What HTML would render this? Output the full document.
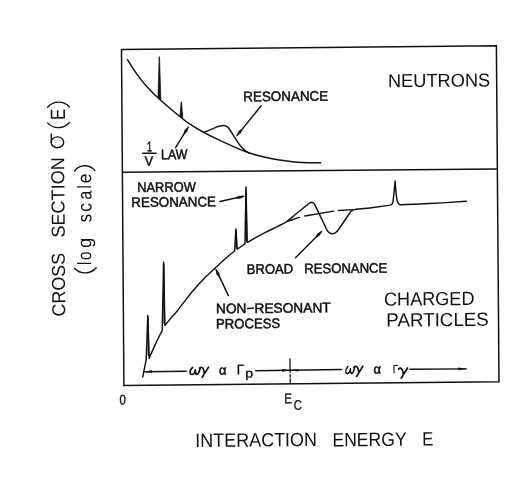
<!DOCTYPE html>
<html><head><meta charset="utf-8">
<style>
html,body{margin:0;padding:0;background:#fff;}
body{width:511px;height:491px;overflow:hidden;}
svg{display:block;filter:grayscale(1);}
text{font-family:"Liberation Sans",sans-serif;fill:#111;}
.l{fill:none;stroke:#111;stroke-width:1.45;stroke-linecap:round;stroke-linejoin:round;}
.f{fill:none;stroke:#111;stroke-width:1.5;stroke-linejoin:miter;}
.p{fill:none;stroke:#111;stroke-width:1.35;stroke-linecap:round;}
</style></head><body>
<svg width="511" height="491" viewBox="0 0 511 491">
<rect width="511" height="491" fill="#fff"/>
<!-- frame -->
<polygon class="f" points="121.5,49.4 496.4,45.8 499,381.8 123.9,385.4"/>
<line class="f" x1="122.3" y1="172.2" x2="497.2" y2="169"/>

<!-- neutron 1/v curve -->
<path class="l" d="M127.5,59.7 C133,69 140,79 145.8,85.5 C150,90.2 155,95.2 159.5,99.2 C166,105 174,111.8 181.3,117.8 C184.5,120.4 187.5,122.6 190,124.2 C197,129 208,135 219.4,140.2 C229,144.5 240,150 248.7,152.8 C258,155.8 268,158 278,159.8 C288,161.3 298,162.6 307.4,162.8 L320.6,162.8"/>
<path d="M158.0,98 L159.1,56.8 L159.5,56.8 L160.9,100 Z M179.9,116.4 L181.1,101.8 L181.5,101.8 L182.8,118.8 Z" fill="#111" stroke="#111" stroke-width="0.7" stroke-linejoin="round"/>
<!-- neutron resonance bump -->
<path class="l" d="M203.2,132.2 C207,131.5 210,129.8 213.5,128.4 C217,126.8 220.5,125.3 223.8,125.5 C226,125.6 227.5,126.4 228.6,128 C230,130 233,135 235.5,138.7 C237.5,142 239.5,145 241.4,146.9 C243.5,149.3 246,151.5 248.7,152.8"/>
<!-- arrows top -->
<path class="l" d="M261.2,105.7 L237.3,135.1"/>
<path fill="#111" d="M236.0,136.7 L238.6,131.1 L241.5,128.9 L242.5,129.7 L241.0,133.0 Z"/>
<path class="l" d="M175.6,147.6 L187.9,127.6"/>
<path fill="#111" d="M189.0,125.9 L187.2,131.8 L184.6,134.3 L183.5,133.6 L184.5,130.2 Z"/>
<path class="l" d="M220.0,201.5 L243.4,196.3"/>
<path fill="#111" d="M245.4,195.9 L239.9,198.7 L236.3,198.6 L236.0,197.3 L239.2,195.7 Z"/>
<path class="l" d="M228.4,295.6 L216.2,269.9"/>
<path fill="#111" d="M215.3,268.1 L219.3,272.9 L220.0,276.4 L218.8,277.0 L216.5,274.2 Z"/>
<path class="l" d="M295.5,257.7 L321.4,231.7"/>
<path fill="#111" d="M322.8,230.3 L319.7,235.6 L316.6,237.5 L315.6,236.6 L317.5,233.5 Z"/>
<line class="l" x1="142.6" y1="153.3" x2="156" y2="153.2" style="stroke-width:1.5"/>

<!-- charged curve -->
<path class="l" d="M142.8,376.9 C143.8,372 145,365 146.2,359.8 L147.8,315.5 L149.2,358.6 C150,356.6 150.8,354.5 151.6,352.6 C155,345 158.6,337 162.2,330.6 L163.6,262.2 L164.9,325.4 C165.6,324.6 166.4,323.6 167.4,322.4 C170,319 173.5,315 177,311.3 C181.5,305 186.5,299 191.3,292.8 C196,287.2 201,281.8 205.5,277.1 C209,273.6 212.5,270.5 215.5,267.7 C221,262.5 227.5,256.5 234.6,251 L235.9,228.9 L237.2,249.2 C240,247.3 242.8,245.4 245,244 L246,187 L247.2,242.6 C253,239 259,235.6 265,232.6 C271,229.6 279,225.8 285.7,222.3 C289,220 292,217.2 295,214.7 L306.8,205.2 C309.5,202.6 312.6,200.6 314.8,204.6 L326.8,229.8 C329.2,234.6 333.8,235 337.2,231.2 C339,229 340.6,226.6 342,224.5 L350.4,212 C351.6,210.4 353.5,209.6 356,209.3 C362,208.7 366,208.4 370,208 C377,207 384,206 390.1,205.1 C391.8,204.8 392.6,203.8 392.9,202.3 C393.8,196 394.5,188 395.1,181 C395.6,188 396.2,195.5 397,200.1 C397.5,203 398.8,204.5 400.5,204.8 C405,204.9 410,204.5 414.8,204.2 C424,203.8 433,203.4 442.2,202.9 C450,202.4 458,201.8 466.3,201.2"/>
<path class="l" d="M148.5,355 L147.9,317 M164.3,323 L163.7,264 M236.3,248 L235.9,231 M246.5,241 L246,190" style="stroke-width:1.6"/>
<!-- dashed background -->
<path class="l" d="M287.6,221.3 L299.4,217.4 M304.8,216 L333.6,211.1 M338.5,210.5 L352.2,209.6"/>

<!-- bottom arrow line -->
<path class="l" d="M144.5,371.7 L186.2,371.2 M255.7,370.7 L341.7,369.5 M409.9,369.3 L466.2,368.9"/>
<path d="M143.4,371.7 L152,370.3 L152,372.9 Z" fill="#111"/>
<path d="M290.7,370.3 L282,369.1 L282,371.7 Z M289.9,370.3 L298.5,368.9 L298.5,371.5 Z" fill="#111"/>
<path d="M467.4,368.9 L458,367.6 L458,370.3 Z" fill="#111"/>
<path class="l" d="M290.0,358.8 L290.1,372.4 M290.2,374.6 L290.2,377.2 M290.2,379 L290.3,383" style="stroke-width:1.3"/>

<!-- parens (drawn) -->
<path class="p" d="M47.6,122.9 A14.4,14.4 0 0 0 69.4,122.5"/>
<path class="p" d="M47.6,107.3 A14.4,14.4 0 0 1 69.4,107.0"/>
<path class="p" d="M74.5,268.2 A14.5,14.5 0 0 0 96.2,267.7"/>
<path class="p" d="M74.5,171.0 A12.8,12.8 0 0 1 94.9,170.6"/>
<!-- sigma -->
<ellipse class="p" cx="57.4" cy="142.3" rx="6.3" ry="5.4"/>
<path class="p" d="M51.2,133.9 L51.3,142.5"/>

<!-- greek drawn -->
<defs>
<path id="om" d="M2.9,0 C1.3,1.6 0.1,4.1 0.4,5.6 C0.8,7.6 3.3,7.4 4.3,6 C5.3,4.6 5.6,3.1 5.7,2.4 C5.5,4.1 5.6,6.2 6.9,6.9 C8.8,7.4 9.9,3.1 10.5,0.4"/>
<path id="ga" d="M0,0.7 C1.6,-1.1 3.4,0.1 4.0,2.1 C4.6,3.7 4.8,5.1 4.6,6.1 C4.1,7.7 3.3,8.9 2.6,9.8 M8.9,-0.4 C7.7,1.9 6.1,4.3 4.6,6.3"/>
</defs>
<g fill="none" stroke="#111" stroke-width="1.7" stroke-linecap="round" stroke-linejoin="round">
<use href="#om" x="189.7" y="367.4"/><use href="#ga" x="199.6" y="367.5"/>
<g transform="translate(345.4,366.5) scale(0.88,1)"><use href="#om"/></g><use href="#ga" x="354.0" y="366.6"/>
<use href="#ga" x="398.6" y="368.4"/>
</g>

<!-- labels -->
<text transform="translate(387.92,87.20) rotate(-0.5) scale(0.9812,1)" style="font-size:18.6px;">NEUTRONS</text>
<text transform="translate(243.33,101.30) rotate(-0.5) scale(0.9711,1)" style="font-size:13.8px;stroke:#111;stroke-width:0.5;">RESONANCE</text>
<text transform="translate(161.10,159.20) rotate(-0.5) scale(0.8990,1)" style="font-size:13.8px;stroke:#111;stroke-width:0.5;">LAW</text>
<text transform="translate(146.93,151.20) rotate(-0.5) scale(0.6667,1)" style="font-size:13.8px;stroke:#111;stroke-width:0.5;">1</text>
<text transform="translate(144.80,165.70) rotate(-0.5) scale(0.9200,1)" style="font-size:13.8px;stroke:#111;stroke-width:0.5;">V</text>
<text transform="translate(137.27,192.10) rotate(-0.5) scale(0.9317,1)" style="font-size:13.8px;stroke:#111;stroke-width:0.5;">NARROW</text>
<text transform="translate(131.33,207.00) rotate(-0.5) scale(0.9699,1)" style="font-size:13.8px;stroke:#111;stroke-width:0.5;">RESONANCE</text>
<text transform="translate(246.86,273.90) rotate(-0.5) scale(0.9439,1)" style="font-size:13.8px;stroke:#111;stroke-width:0.5;">BROAD</text>
<text transform="translate(304.15,273.30) rotate(-0.5) scale(0.9525,1)" style="font-size:13.8px;stroke:#111;stroke-width:0.5;">RESONANCE</text>
<text transform="translate(216.00,313.30) rotate(-0.5) scale(0.9952,1)" style="font-size:13.8px;stroke:#111;stroke-width:0.5;">NON−RESONANT</text>
<text transform="translate(216.05,328.60) rotate(-0.5) scale(0.9507,1)" style="font-size:13.8px;stroke:#111;stroke-width:0.5;">PROCESS</text>
<text transform="translate(384.00,305.70) rotate(-0.5) scale(0.9524,1)" style="font-size:19.0px;">CHARGED</text>
<text transform="translate(386.31,326.60) rotate(-0.5) scale(0.9887,1)" style="font-size:19.0px;">PARTICLES</text>
<text transform="translate(119.40,404.60) rotate(-0.5) scale(0.8375,1)" style="font-size:13.8px;stroke:#111;stroke-width:0.3;">0</text>
<text transform="translate(284.36,403.20) rotate(-0.5) scale(0.8375,1)" style="font-size:14.0px;stroke:#111;stroke-width:0.3;">E</text>
<text transform="translate(293.80,409.70) rotate(-0.5) scale(0.8300,1)" style="font-size:13.8px;stroke:#111;stroke-width:0.3;">C</text>
<text transform="translate(219.00,374.60) rotate(-0.5) scale(1.0000,1)" style="font-size:13.0px;stroke:#111;stroke-width:0.55;">α</text>
<text transform="translate(236.54,374.60) rotate(-0.5) scale(1.0571,1)" style="font-size:14.0px;stroke:#111;stroke-width:0.2;">Γ</text>
<text transform="translate(245.20,377.40) rotate(-0.5) scale(1.1286,1)" style="font-size:12.4px;stroke:#111;stroke-width:0.35;">p</text>
<text transform="translate(373.50,373.50) rotate(-0.5) scale(1.0000,1)" style="font-size:13.0px;stroke:#111;stroke-width:0.55;">α</text>
<text transform="translate(392.80,373.30) rotate(-0.5) scale(0.8286,1)" style="font-size:12.0px;stroke:#111;stroke-width:0.2;">Γ</text>
<text transform="translate(195.37,447.00) rotate(-0.5) scale(0.9312,1)" style="font-size:19.3px;">INTERACTION</text>
<text transform="translate(332.39,446.40) rotate(-0.5) scale(0.9135,1)" style="font-size:19.3px;">ENERGY</text>
<text transform="translate(422.23,445.60) rotate(-0.5) scale(0.8667,1)" style="font-size:19.3px;">E</text>
<text transform="translate(65.30,316.40) rotate(-90.5) scale(0.9508,1)" style="font-size:18.8px;">CROSS</text>
<text transform="translate(64.80,237.50) rotate(-90.5) scale(0.9612,1)" style="font-size:18.8px;">SECTION</text>
<text transform="translate(65.10,120.12) rotate(-90.5) scale(0.8250,1)" style="font-size:20.6px;">E</text>
<text transform="translate(91.30,264.67) rotate(-90.5) scale(0.6667,1)" style="font-size:19.6px;">l</text>
<text transform="translate(91.30,260.00) rotate(-90.5) scale(0.7818,1)" style="font-size:19.6px;">o</text>
<text transform="translate(91.30,247.70) rotate(-90.5) scale(0.9100,1)" style="font-size:19.6px;">g</text>
<text transform="translate(91.60,222.30) rotate(-90.5) scale(0.8600,1)" style="font-size:19.6px;">s</text>
<text transform="translate(91.50,211.70) rotate(-90.5) scale(0.9000,1)" style="font-size:19.6px;">c</text>
<text transform="translate(91.40,199.50) rotate(-90.5) scale(0.8091,1)" style="font-size:19.6px;">a</text>
<text transform="translate(91.30,188.37) rotate(-90.5) scale(0.6667,1)" style="font-size:19.6px;">l</text>
<text transform="translate(91.20,183.20) rotate(-90.5) scale(0.8909,1)" style="font-size:19.6px;">e</text>
</svg>
</body></html>
